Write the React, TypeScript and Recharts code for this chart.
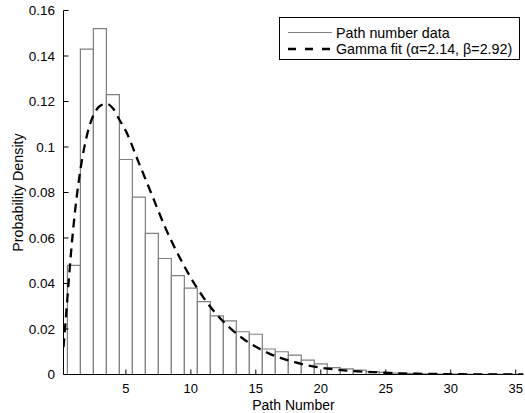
import React from "react";
import { ComposedChart, Bar, Line, XAxis, YAxis, Legend } from "recharts";

// Histogram bin centers and probability densities
const binCenters = [1, 2, 3, 4, 5, 6, 7, 8, 9, 10, 11, 12, 13, 14, 15, 16, 17, 18, 19, 20, 21, 22, 23, 24, 25, 26, 27, 28, 29, 30, 31, 32, 33, 34, 35];
const densities = [0.048, 0.143, 0.152, 0.123, 0.0945, 0.078, 0.062, 0.051, 0.0435, 0.038, 0.032, 0.0258, 0.0236, 0.0188, 0.0177, 0.0112, 0.01, 0.0085, 0.0063, 0.0047, 0.003, 0.0025, 0.0019, 0.0013, 0.0009, 0.0006, 0.0005, 0.0003, 0.0002, 0.0002, 0.0001, 0.0001, 0.0001, 0.0001, 0.0001];

// Gamma fit curve
const fitX = [0.2, 0.4, 0.6, 0.8, 1, 1.5, 2, 2.5, 3, 3.5, 4, 4.5, 5, 6, 7, 8, 9, 10, 11, 12, 13, 14, 15, 16, 17, 18, 19, 20, 22, 24, 26, 28, 30, 33, 35.6];
const fitPdf = [0.012, 0.026, 0.041, 0.055, 0.067, 0.09, 0.105, 0.114, 0.118, 0.119, 0.117, 0.112, 0.107, 0.093, 0.079, 0.065, 0.053, 0.0425, 0.0336, 0.0263, 0.0205, 0.0158, 0.0122, 0.0093, 0.0071, 0.0054, 0.004, 0.003, 0.0017, 0.001, 0.0005, 0.0003, 0.00015, 0.00005, 0.00002];

const xTicks = [5, 10, 15, 20, 25, 30, 35];
const yTicks = [0, 0.02, 0.04, 0.06, 0.08, 0.1, 0.12, 0.14, 0.16];

const histName = "Path number data";
const fitName = "Gamma fit (\u03b1=2.14, \u03b2=2.92)";

const histData = binCenters.map((x, i) => ({ x, density: densities[i] }));
const fitData = fitX.map((x, i) => ({ x, pdf: fitPdf[i] }));

const FONT = "'Liberation Sans', Arial, Helvetica, sans-serif";

const LegendBox = () => (
  <div
    style={{
      border: "1px solid #000",
      background: "#fff",
      width: 239,
      height: 41,
      boxSizing: "content-box",
      fontFamily: FONT,
      fontSize: 14,
      color: "#000",
      position: "relative",
    }}
  >
    <svg width={239} height={41} style={{ position: "absolute", left: 0, top: 0 }}>
      <line x1={8} x2={52} y1={14.5} y2={14.5} stroke="#808080" strokeWidth={1} />
      <line x1={8} x2={52} y1={31} y2={31} stroke="#000" strokeWidth={2.3} strokeDasharray="8 9" />
      <text x={56} y={19.5} fontSize={14.3} fontFamily={FONT} fill="#000">{histName}</text>
      <text x={56} y={36} fontSize={14.3} fontFamily={FONT} fill="#000">{fitName}</text>
    </svg>
  </div>
);

export default function App() {
  return (
    <div style={{ position: "absolute", left: 0, top: 0, fontFamily: FONT }}>
      <ComposedChart
        width={525}
        height={413}
        data={histData}
        margin={{ top: 10.5, right: 1.5, bottom: 0, left: 0 }}
        barGap={0}
        barCategoryGap={0}
      >
        <XAxis
          dataKey="x"
          type="number"
          domain={[0.2, 35.6]}
          allowDataOverflow
          ticks={xTicks}
          height={38.5}
          tickSize={-5}
          tickMargin={14.5}
          axisLine={{ stroke: "#000" }}
          tickLine={{ stroke: "#000" }}
          tick={{ fontSize: 13, fill: "#000", fontFamily: FONT }}
          label={{ value: "Path Number", position: "insideBottom", offset: 3, fontSize: 14, fill: "#000", fontFamily: FONT }}
        />
        <XAxis
          xAxisId="top"
          orientation="top"
          dataKey="x"
          type="number"
          domain={[0.2, 35.6]}
          allowDataOverflow
          ticks={xTicks}
          height={0}
          tick={false}
          tickSize={-5}
          axisLine={{ stroke: "#000" }}
          tickLine={{ stroke: "#000" }}
        />
        <YAxis
          type="number"
          domain={[0, 0.16]}
          allowDataOverflow
          ticks={yTicks}
          width={63.5}
          tickSize={-5}
          tickMargin={13.5}
          axisLine={{ stroke: "#000" }}
          tickLine={{ stroke: "#000" }}
          tick={{ fontSize: 13.5, fill: "#000", fontFamily: FONT }}
          label={{
            value: "Probability Density",
            angle: -90,
            position: "insideLeft",
            offset: 17.5,
            fontSize: 14.3,
            fill: "#000",
            fontFamily: FONT,
            style: { textAnchor: "middle" },
          }}
        />
        <YAxis
          yAxisId="right"
          orientation="right"
          type="number"
          domain={[0, 0.16]}
          allowDataOverflow
          ticks={yTicks}
          width={0}
          tick={false}
          tickSize={-5}
          axisLine={{ stroke: "#000" }}
          tickLine={{ stroke: "#000" }}
        />
        <Legend
          layout="vertical"
          align="center"
          verticalAlign="middle"
          content={() => <LegendBox />}
          wrapperStyle={{ position: "absolute", left: 279, top: 17, width: 241, height: 43 }}
        />
        <Bar
          dataKey="density"
          name={histName}
          fill="#fff"
          stroke="#808080"
          strokeWidth={1.2}
          isAnimationActive={false}
        />
        <Line
          xAxisId="top"
          data={fitData}
          dataKey="pdf"
          name={fitName}
          type="monotone"
          dot={false}
          activeDot={false}
          stroke="#000"
          strokeWidth={2.3}
          strokeDasharray="9 6"
          isAnimationActive={false}
        />
      </ComposedChart>
    </div>
  );
}
